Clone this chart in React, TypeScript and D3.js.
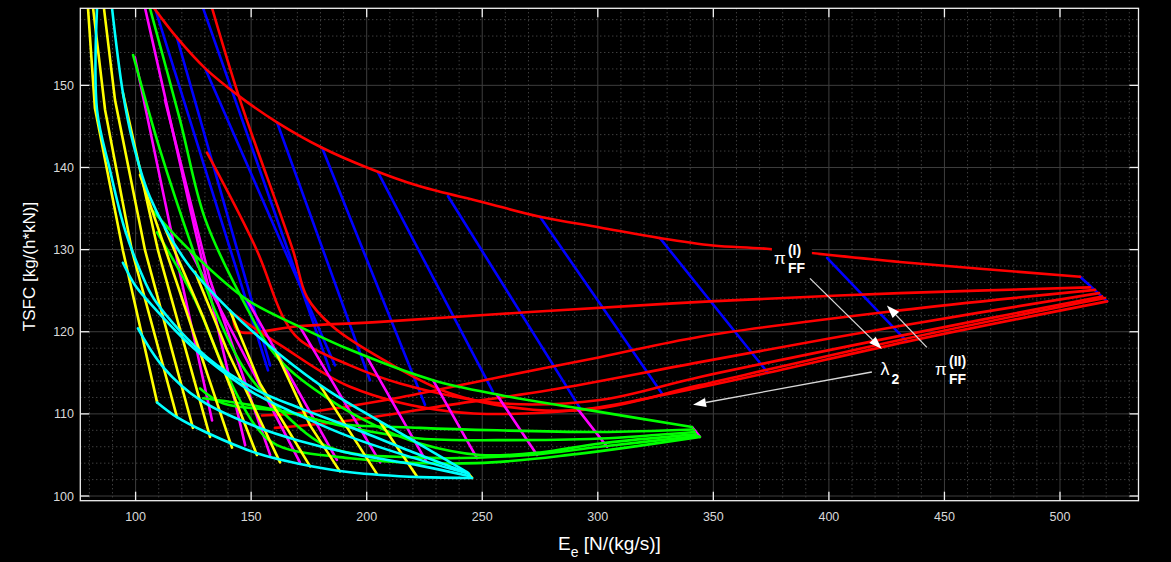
import React from 'react';
import * as d3 from 'd3';

type Pt = [number, number];

// Axis ranges and ticks
const X_DOMAIN: [number, number] = [76.07, 533.97];
const Y_DOMAIN: [number, number] = [99.43, 159.38];
const X_TICKS = [100, 150, 200, 250, 300, 350, 400, 450, 500];
const Y_TICKS = [100, 110, 120, 130, 140, 150];

// ---- carpet 3 (highest thrust): red curves, blue cross lines ----
const redCurves: Pt[][] = [
  [[108.0, 159.4], [117.9, 155.8], [130.0, 152.1], [145.2, 148.6], [161.2, 145.5], [180.7, 142.4], [200.1, 140.0], [223.0, 137.7], [249.9, 135.8], [275.0, 134.0], [300.9, 132.7], [326.9, 131.4], [349.9, 130.5], [373.2, 130.1], [430.7, 128.5], [508.7, 126.7]],
  [[142.1, 122.2], [144.3, 120.1], [171.1, 120.7], [205.8, 121.2], [270.7, 122.4], [348.6, 123.7], [430.7, 124.7], [513.0, 125.4]],
  [[154.7, 109.8], [171.1, 110.1], [214.4, 112.0], [257.7, 114.5], [300.9, 116.9], [344.2, 119.4], [430.7, 122.6], [515.2, 125.1]],
  [[160.3, 108.3], [192.8, 109.2], [236.0, 111.1], [279.3, 112.9], [344.2, 116.3], [430.7, 120.7], [516.9, 124.7]],
  [[130.9, 141.8], [152.5, 129.9], [163.8, 121.8], [171.1, 119.0], [192.8, 115.9], [214.4, 113.7], [257.7, 111.3], [300.9, 111.7], [344.2, 114.5], [430.7, 119.5], [518.2, 124.3]],
  [[133.1, 159.4], [145.2, 148.2], [168.1, 129.9], [174.2, 124.2], [185.4, 120.6], [207.1, 116.6], [236.0, 112.5], [272.0, 110.5], [300.9, 110.7], [344.2, 113.5], [430.7, 119.0], [519.5, 124.1]],
  [[142.1, 122.2], [162.5, 118.4], [192.8, 113.3], [236.0, 110.3], [292.3, 110.5], [328.2, 112.3], [373.6, 115.0], [433.8, 118.8], [520.4, 123.7]],
];
const blueLines: Pt[][] = [
  [[108.4, 159.4], [157.3, 115.3]],
  [[117.9, 155.8], [158.2, 115.9]],
  [[129.2, 159.4], [184.1, 115.3]],
  [[130.0, 152.1], [186.3, 115.9]],
  [[161.2, 145.5], [201.4, 114.1]],
  [[180.7, 142.4], [225.2, 111.1]],
  [[204.9, 139.4], [254.6, 112.7]],
  [[235.2, 136.5], [292.3, 110.7]],
  [[275.0, 134.0], [328.2, 112.3]],
  [[326.9, 131.4], [373.6, 115.0]],
  [[399.2, 129.0], [433.8, 118.8]],
  [[508.7, 126.7], [520.4, 123.7]],
];

// ---- carpet 2: green curves, magenta cross lines ----
const greenCurves: Pt[][] = [
  [[106.2, 135.1], [123.5, 129.9], [148.2, 123.9], [171.1, 120.6], [192.8, 117.8], [228.7, 114.1], [257.7, 112.3], [291.0, 110.7], [340.8, 108.4]],
  [[127.9, 113.1], [137.8, 111.3], [166.8, 110.2], [184.1, 108.9], [223.0, 108.3], [256.4, 108.0], [300.9, 107.8], [341.6, 108.1]],
  [[129.2, 111.9], [149.5, 111.1], [166.8, 110.1], [192.8, 108.3], [223.0, 107.0], [257.7, 106.8], [300.9, 107.0], [342.0, 107.8]],
  [[106.2, 159.4], [119.2, 145.8], [130.0, 133.8], [146.5, 123.8], [161.2, 116.9], [184.1, 111.7], [205.8, 108.3], [223.0, 106.4], [249.0, 105.0], [275.0, 105.3], [300.9, 106.4], [342.5, 107.5]],
  [[98.9, 153.7], [110.6, 142.1], [124.9, 129.9], [134.4, 122.6], [147.4, 115.3], [162.5, 110.5], [184.1, 105.9], [220.0, 104.7], [270.7, 105.0], [300.9, 106.0], [343.3, 107.3]],
  [[109.3, 132.1], [125.7, 123.9], [138.7, 115.3], [151.7, 108.6], [161.2, 106.2], [192.8, 104.6], [247.3, 104.0], [290.6, 105.1], [344.2, 107.2]],
];
const magentaLines: Pt[][] = [
  [[99.7, 153.4], [119.2, 127.1], [133.1, 109.2]],
  [[104.1, 159.4], [125.7, 132.4], [147.4, 106.2]],
  [[112.7, 148.2], [132.2, 126.3], [158.2, 105.0]],
  [[123.5, 129.9], [171.1, 104.1]],
  [[148.2, 123.9], [187.1, 104.4]],
  [[171.1, 120.6], [205.8, 104.1]],
  [[200.1, 116.9], [226.0, 104.1]],
  [[228.7, 114.1], [247.7, 104.6]],
  [[256.4, 112.3], [273.7, 105.0]],
  [[291.0, 110.7], [304.0, 106.0]],
  [[340.8, 108.4], [344.2, 107.2]],
];

// ---- carpet 1 (lowest thrust): cyan curves, yellow cross lines ----
const cyanCurves: Pt[][] = [
  [[109.3, 111.4], [117.9, 109.6], [130.9, 107.7], [152.5, 105.2], [171.1, 103.9], [192.8, 102.9], [223.0, 102.3], [245.6, 102.2]],
  [[101.0, 120.4], [111.9, 115.7], [127.9, 111.7], [152.5, 108.4], [171.1, 106.7], [192.8, 105.2], [223.0, 103.7], [244.7, 102.4]],
  [[94.5, 128.4], [99.7, 125.7], [104.9, 123.9], [123.5, 118.4], [140.8, 114.5], [152.5, 112.3], [171.1, 109.8], [192.8, 107.2], [223.0, 104.4], [244.3, 102.7]],
  [[83.3, 159.4], [83.3, 147.0], [88.9, 139.7], [95.4, 132.4], [101.9, 127.5], [108.4, 123.8], [130.9, 116.9], [152.5, 112.9], [171.1, 110.7], [192.8, 108.4], [223.0, 105.0], [243.8, 102.8]],
  [[89.8, 159.4], [94.5, 149.1], [98.9, 143.0], [106.2, 136.4], [122.2, 128.4], [140.8, 122.6], [162.5, 117.2], [184.1, 112.7], [214.4, 107.7], [243.4, 102.9]],
];
const yellowLines: Pt[][] = [
  [[79.4, 159.4], [82.4, 147.2], [94.5, 129.9], [109.3, 111.4]],
  [[81.6, 159.4], [86.8, 147.0], [98.4, 129.9], [117.9, 109.6]],
  [[86.3, 159.4], [91.1, 148.2], [104.1, 129.9], [124.8, 108.3]],
  [[94.5, 149.1], [109.7, 129.9], [132.2, 107.2]],
  [[101.9, 139.1], [117.9, 125.9], [141.7, 105.9]],
  [[112.7, 132.6], [129.2, 121.8], [152.5, 105.0]],
  [[125.7, 127.3], [139.5, 117.8], [162.5, 104.1]],
  [[140.8, 122.6], [153.8, 113.7], [175.5, 103.6]],
  [[160.3, 117.8], [175.5, 108.6], [188.4, 103.0]],
  [[179.7, 113.5], [204.4, 102.7]],
  [[205.8, 109.0], [221.7, 102.4]],
  [[243.4, 102.9], [245.6, 102.2]],
];

// Annotation arrows: [from, to] in data units
const arrowPiI: [Pt, Pt] = [[391.8, 126.5], [422.9, 117.9]];
const arrowPiII: [Pt, Pt] = [[442.4, 118.1], [425.1, 123.2]];
const arrowLambda: [Pt, Pt] = [[418.6, 115.1], [341.2, 111.1]];
const labelPiI: Pt = [376.2, 128.2];
const labelPiII: Pt = [445.9, 114.7];
const labelLambda: Pt = [422.3, 114.7];

const W = 1171;
const H = 562;
const PL = 80.3, PR = 1138.5, PT = 8.3, PB = 500.7;

const FONT = 'Arial, "Liberation Sans", Helvetica, sans-serif';

export default function App() {
  const x = d3.scaleLinear().domain(X_DOMAIN).range([PL, PR]);
  const y = d3.scaleLinear().domain(Y_DOMAIN).range([PB, PT]);
  const curve = d3.line<Pt>().x(d => x(d[0])).y(d => y(d[1])).curve(d3.curveCatmullRom.alpha(0.5));
  const straight = d3.line<Pt>().x(d => x(d[0])).y(d => y(d[1]));

  const minorX = d3.range(80, 534, 10).filter(v => v % 50 !== 0);
  const minorY = d3.range(100, 160, 2).filter(v => v % 10 !== 0);

  const LW = 2.6;
  const drawSet = (lines: Pt[][], color: string, gen: d3.Line<Pt>, key: string) =>
    lines.map((l, i) => (
      <path key={key + i} d={gen(l) || ''} fill="none" stroke={color} strokeWidth={LW} strokeLinejoin="round" strokeLinecap="round" />
    ));

  const arrow = (a: [Pt, Pt], key: string) => {
    const x0 = x(a[0][0]), y0 = y(a[0][1]), x1 = x(a[1][0]), y1 = y(a[1][1]);
    const ang = Math.atan2(y1 - y0, x1 - x0);
    const len = 13, half = 4.5;
    const bx = x1 - len * Math.cos(ang), by = y1 - len * Math.sin(ang);
    const px = -Math.sin(ang), py = Math.cos(ang);
    const pts = `${x1},${y1} ${bx + half * px},${by + half * py} ${bx - half * px},${by - half * py}`;
    return (
      <g key={key}>
        <line x1={x0} y1={y0} x2={bx} y2={by} stroke="#d8d8d8" strokeWidth={1.3} />
        <polygon points={pts} fill="#ffffff" />
      </g>
    );
  };

  const piLabel = (p: Pt, sup: string, key: string) => {
    const px0 = x(p[0]), py0 = y(p[1]);
    return (
      <g key={key} fontFamily={FONT} fill="#ffffff">
        <text x={px0} y={py0} fontSize={17}>π</text>
        <text x={px0 + 14} y={py0 - 9} fontSize={14} fontWeight="bold">{sup}</text>
        <text x={px0 + 14} y={py0 + 9} fontSize={14} fontWeight="bold">FF</text>
      </g>
    );
  };

  return (
    <svg width={W} height={H} style={{ position: 'absolute', left: 0, top: 0, display: 'block', background: '#000' }}>
      <rect x={0} y={0} width={W} height={H} fill="#000" />
      <defs>
        <clipPath id="plotClip">
          <rect x={PL} y={PT} width={PR - PL} height={PB - PT} />
        </clipPath>
      </defs>
      {/* grid */}
      <g>
        {minorX.map(v => (
          <line key={'mx' + v} x1={x(v)} x2={x(v)} y1={PT} y2={PB} stroke="#5a5a5a" strokeWidth={1} strokeDasharray="1 3" />
        ))}
        {minorY.map(v => (
          <line key={'my' + v} x1={PL} x2={PR} y1={y(v)} y2={y(v)} stroke="#5a5a5a" strokeWidth={1} strokeDasharray="1 3" />
        ))}
        {X_TICKS.map(v => (
          <line key={'gx' + v} x1={x(v)} x2={x(v)} y1={PT} y2={PB} stroke="#3e3e3e" strokeWidth={1} />
        ))}
        {Y_TICKS.map(v => (
          <line key={'gy' + v} x1={PL} x2={PR} y1={y(v)} y2={y(v)} stroke="#3e3e3e" strokeWidth={1} />
        ))}
      </g>
      {/* data */}
      <g clipPath="url(#plotClip)">
        {drawSet(blueLines, '#0000ff', straight, 'b')}
        {drawSet(redCurves, '#ff0000', curve, 'r')}
        {drawSet(magentaLines, '#ff00ff', straight, 'm')}
        {drawSet(greenCurves, '#00ff00', curve, 'g')}
        {drawSet(yellowLines, '#ffff00', straight, 'y')}
        {drawSet(cyanCurves, '#00ffff', curve, 'c')}
      </g>
      {/* annotations */}
      <rect x={x(labelPiI[0]) - 2} y={y(labelPiI[1]) - 22} width={40} height={36} fill="#000" />
      {piLabel(labelPiI, '(I)', 'p1')}
      {piLabel(labelPiII, '(II)', 'p2')}
      <g fontFamily={FONT} fill="#ffffff">
        <text x={x(labelLambda[0])} y={y(labelLambda[1])} fontSize={18}>λ</text>
        <text x={x(labelLambda[0]) + 11} y={y(labelLambda[1]) + 9} fontSize={14} fontWeight="bold">2</text>
      </g>
      {arrow(arrowPiI, 'a1')}
      {arrow(arrowPiII, 'a2')}
      {arrow(arrowLambda, 'a3')}
      {/* axes box and ticks */}
      <rect x={PL} y={PT} width={PR - PL} height={PB - PT} fill="none" stroke="#f0f0f0" strokeWidth={1.3} />
      {X_TICKS.map(v => (
        <g key={'tx' + v}>
          <line x1={x(v)} x2={x(v)} y1={PB} y2={PB - 9} stroke="#f0f0f0" strokeWidth={1.3} />
          <line x1={x(v)} x2={x(v)} y1={PT} y2={PT + 9} stroke="#f0f0f0" strokeWidth={1.3} />
          <text x={x(v)} y={521} textAnchor="middle" fontFamily={FONT} fontSize={12.5} fill="#d9d9d9">{v}</text>
        </g>
      ))}
      {Y_TICKS.map(v => (
        <g key={'ty' + v}>
          <line x1={PL} x2={PL + 9} y1={y(v)} y2={y(v)} stroke="#f0f0f0" strokeWidth={1.3} />
          <line x1={PR} x2={PR - 9} y1={y(v)} y2={y(v)} stroke="#f0f0f0" strokeWidth={1.3} />
          <text x={74} y={y(v) + 4.5} textAnchor="end" fontFamily={FONT} fontSize={12.5} fill="#d9d9d9">{v}</text>
        </g>
      ))}
      {/* axis labels */}
      <text transform={`translate(35, ${(PT + PB) / 2 + 12}) rotate(-90)`} textAnchor="middle" fontFamily={FONT} fontSize={17} fill="#ffffff">
        TSFC  [kg/(h*kN)]
      </text>
      <text x={558} y={550} fontFamily={FONT} fontSize={19} fill="#ffffff">
        E<tspan dy={7} fontSize={14}>e</tspan><tspan dy={-7}> [N/(kg/s)]</tspan>
      </text>
    </svg>
  );
}
